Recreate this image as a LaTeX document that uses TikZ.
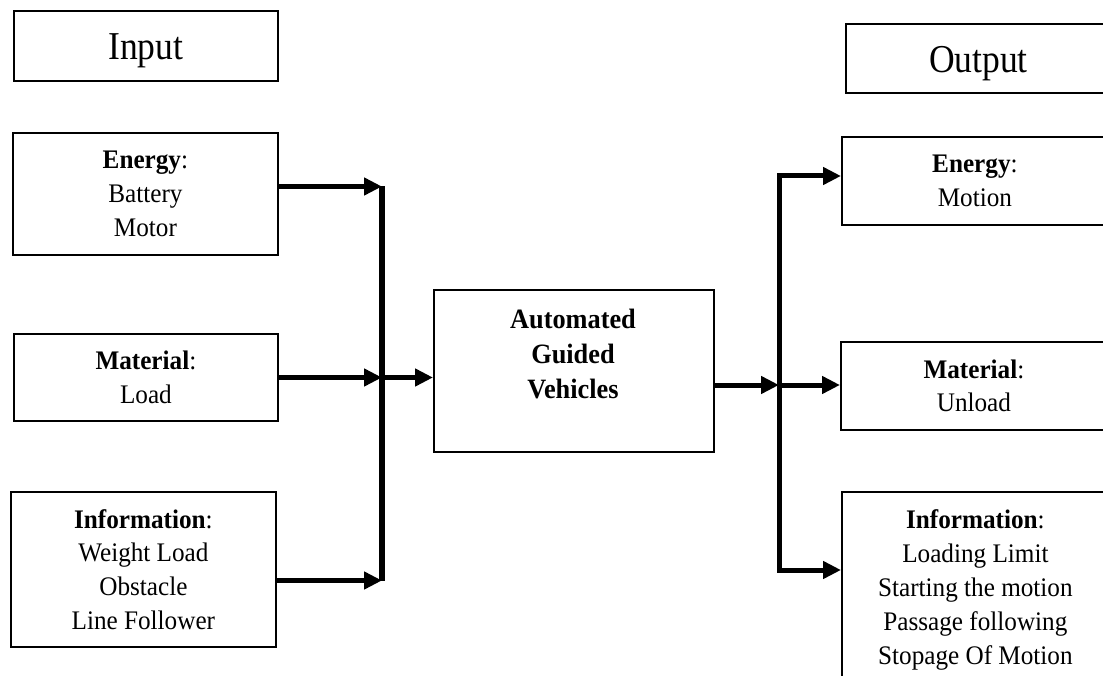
\documentclass[tikz,border=0pt]{standalone}
\usepackage{fontspec}
\setmainfont{Liberation Serif}[FakeStretch=0.94]
\newfontfamily\ttlfont{Liberation Serif}[FakeStretch=0.9]
\usetikzlibrary{arrows.meta}
\newcommand\bdyfont{\fontsize{26.8}{33.8}\selectfont}
\newcommand\agvfont{\fontsize{28}{35}\selectfont\bfseries}
\newcommand\bigttl{\ttlfont\fontsize{39.5}{45}\selectfont}
\tikzset{
  box/.style={draw, line width=1.8pt, inner sep=0pt, anchor=north west, align=center, font=\bdyfont},
  ttlbox/.style={box, font=\bigttl, text height=36pt, text depth=8pt},
  arr/.style={line width=5pt, line join=miter, -{Triangle[length=18pt,width=17pt]}},
  barline/.style={line width=5.5pt, line cap=square}
}
\begin{document}
\begin{tikzpicture}[x=1pt,y=-1pt]
\useasboundingbox (0,0) rectangle (1103,676);
\clip (0,0) rectangle (1103,676);
\fill[white] (0,0) rectangle (1103,676);

% input side
\node[ttlbox, minimum width=264pt, minimum height=70pt] (inbox) at (13,10) {Input};
\node[box, minimum width=265pt, minimum height=122pt] (ein) at (12,132) {\textbf{Energy}:\\Battery\\Motor};
\node[box, minimum width=264pt, minimum height=87pt] (min) at (13,333) {\textbf{Material}:\\Load};
\node[box, minimum width=265pt, minimum height=155pt] (iin) at (10,491) {\textbf{Information}:\\Weight Load\\Obstacle\\Line Follower};

% central box
\node[box, minimum width=280pt, minimum height=162pt] (agv) at (433,289) {};
\node[font=\agvfont, align=center, anchor=north, inner sep=0pt] (agvt) at (573,309) {Automated\\Guided\\Vehicles};

% output side
\node[ttlbox, minimum width=265pt, minimum height=69pt] (outbox) at (845,23) {Output};
\node[box, minimum width=266pt, minimum height=88pt] (eout) at (841,136) {\textbf{Energy}:\\Motion};
\node[box, minimum width=266pt, minimum height=88pt] (mout) at (840,341) {\textbf{Material}:\\Unload};
\node[box, minimum width=267pt, minimum height=196pt] (iout) at (841,491) {\textbf{Information}:\\Loading Limit\\Starting the motion\\Passage following\\Stopage Of Motion};

% junction coordinates
\coordinate (lb1) at (382,186.5);
\coordinate (lb2) at (382,377.5);
\coordinate (lb3) at (382,580.5);
\coordinate (rb1) at (779,176);
\coordinate (rb2) at (779,385);
\coordinate (rb3) at (779,570);

% left connectors
\draw[arr] (ein.east |- lb1) -- (lb1);
\draw[arr] (min.east |- lb2) -- (lb2);
\draw[arr] (iin.east |- lb3) -- (lb3);
\draw[barline] (lb1) -- (lb3);
\draw[arr] (lb2) -- (agv.west |- lb2);

% right connectors
\draw[arr] (agv.east |- rb2) -- (rb2);
\draw[arr] (rb2) -- (rb1) -- (eout.west |- rb1);
\draw[arr] (rb2) -- (mout.west |- rb2);
\draw[arr] (rb2) -- (rb3) -- (iout.west |- rb3);
\end{tikzpicture}
\end{document}
